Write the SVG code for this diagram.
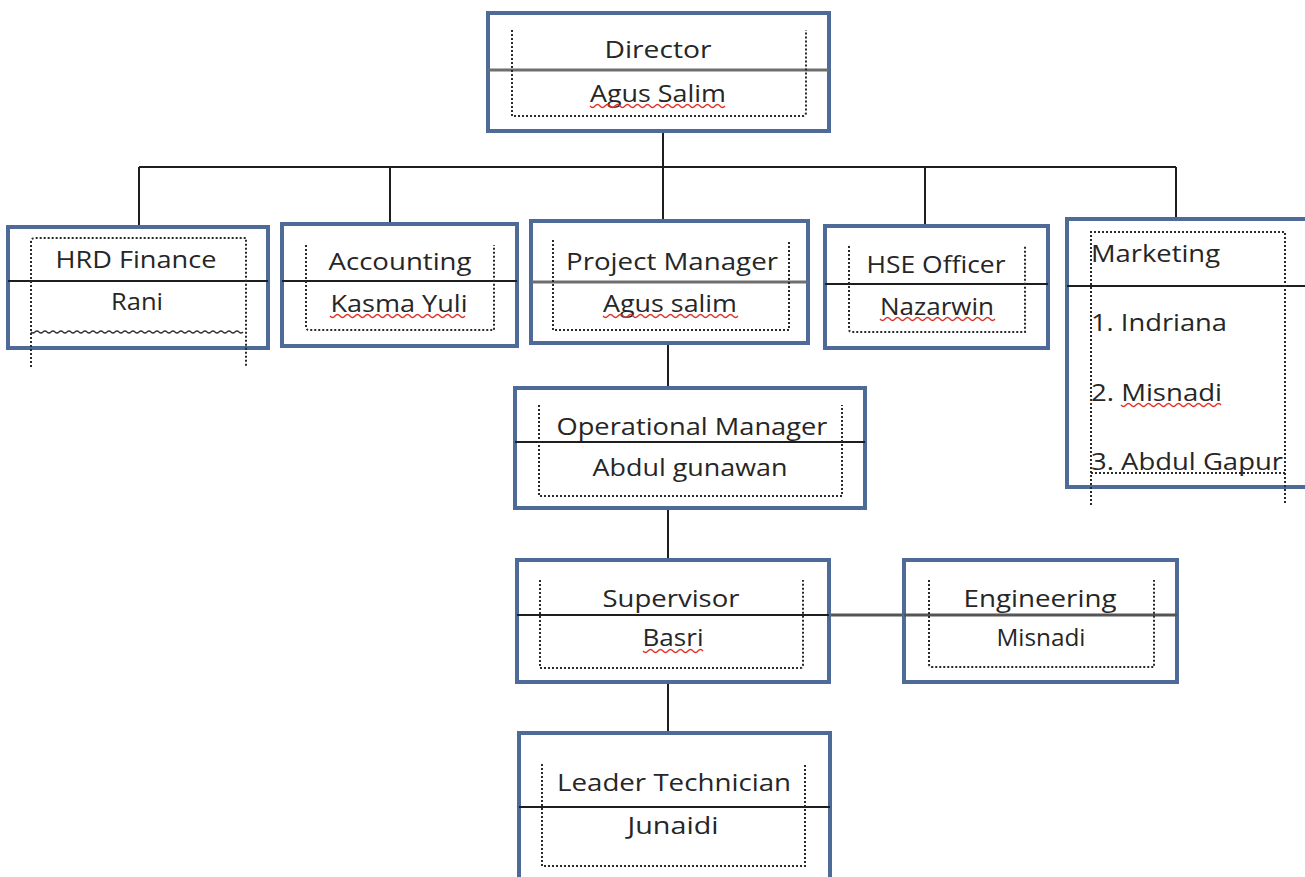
<svg xmlns="http://www.w3.org/2000/svg" width="1305" height="877" viewBox="0 0 1305 877">
<style>
.box{fill:#fff;stroke:#4e6b98;stroke-width:4}
.div{stroke:#1e1e1e;stroke-width:2;fill:none}
.divg{stroke:#6e6e6e;stroke-width:3;fill:none}
.dot{fill:none;stroke:#2a2a2a;stroke-width:2;stroke-dasharray:2 2}
.t{font-family:"Open Sans","Liberation Sans",sans-serif;font-size:23px;fill:#262626;text-anchor:middle}
.tl{text-anchor:start}
.wav{fill:none;stroke:#e0302a;stroke-width:1.3}
.con{stroke:#1e1e1e;stroke-width:2;fill:none}
</style>
<rect width="1305" height="877" fill="#fff"/>
<g id="connectors">
<path class="con" d="M663 131V221M139 167H1176M139 167V227M390 167V224M925 167V226M1176 167V219"/>
<path class="con" d="M668 343V388M668 508V560M668 682V733"/>
<path d="M829 615H1177" stroke="#555" stroke-width="3"/>
</g>
<g id="director">
<rect class="box" x="488" y="13" width="341" height="118"/>
<path class="divg" d="M488 70H829"/>
<path class="dot" d="M512 30V116H803Q806 116 806 112V30"/>
<text class="t" x="658" y="58" textLength="107" lengthAdjust="spacingAndGlyphs">Director</text>
<text class="t" x="658" y="102" textLength="136" lengthAdjust="spacingAndGlyphs">Agus Salim</text>
<path class="wav" d="M590 106q2.5 3 5 0t5 0t5 0t5 0t5 0t5 0t5 0t5 0t5 0t5 0t5 0t5 0t5 0t5 0t5 0t5 0t5 0t5 0t5 0t5 0t5 0t5 0t5 0t5 0t5 0t5 0t5 0"/>
</g>
<g id="hrd">
<rect class="box" x="8" y="227" width="260" height="121"/>
<path class="div" d="M8 281H268"/>
<path class="dot" d="M31 367V242Q31 238 35 238H246V367"/>
<path d="M31 332q2 2 4 0t4 0t4 0t4 0t4 0t4 0t4 0t4 0t4 0t4 0t4 0t4 0t4 0t4 0t4 0t4 0t4 0t4 0t4 0t4 0t4 0t4 0t4 0t4 0t4 0t4 0t4 0t4 0t4 0t4 0t4 0t4 0t4 0t4 0t4 0t4 0t4 0t4 0t4 0t4 0t4 0t4 0t4 0t4 0t4 0t4 0t4 0t4 0t4 0t4 0t4 0t4 0t4 0" fill="none" stroke="#333" stroke-width="1.3"/>
<text class="t" x="136" y="268" textLength="161" lengthAdjust="spacingAndGlyphs">HRD Finance</text>
<text class="t" x="137" y="310" textLength="52" lengthAdjust="spacingAndGlyphs">Rani</text>
</g>
<g id="accounting">
<rect class="box" x="282" y="224" width="235" height="122"/>
<path class="div" d="M282 281H517"/>
<path class="dot" d="M306 245V327Q306 330 309 330H494V245"/>
<text class="t" x="400" y="270" textLength="143" lengthAdjust="spacingAndGlyphs">Accounting</text>
<text class="t" x="399" y="312" textLength="137" lengthAdjust="spacingAndGlyphs">Kasma Yuli</text>
<path class="wav" d="M330 316q2.5 3 5 0t5 0t5 0t5 0t5 0t5 0t5 0t5 0t5 0t5 0t5 0t5 0t5 0t5 0t5 0t5 0t5 0t5 0t5 0t5 0t5 0t5 0t5 0t5 0t5 0t5 0t5 0"/>
</g>
<g id="project-manager">
<rect class="box" x="531" y="221" width="277" height="122"/>
<path class="divg" d="M531 282H808"/>
<path class="dot" d="M553 240V330H789V240"/>
<text class="t" x="672" y="270" textLength="212" lengthAdjust="spacingAndGlyphs">Project Manager</text>
<text class="t" x="670" y="312" textLength="134" lengthAdjust="spacingAndGlyphs">Agus salim</text>
<path class="wav" d="M603 316q2.5 3 5 0t5 0t5 0t5 0t5 0t5 0t5 0t5 0t5 0t5 0t5 0t5 0t5 0t5 0t5 0t5 0t5 0t5 0t5 0t5 0t5 0t5 0t5 0t5 0t5 0t5 0t5 0"/>
</g>
<g id="hse">
<rect class="box" x="825" y="226" width="223" height="122"/>
<path class="div" d="M825 284H1048"/>
<path class="dot" d="M849 246V329Q849 332 852 332H1025V246"/>
<text class="t" x="936" y="273" textLength="139" lengthAdjust="spacingAndGlyphs">HSE Officer</text>
<text class="t" x="937" y="315" textLength="114" lengthAdjust="spacingAndGlyphs">Nazarwin</text>
<path class="wav" d="M880 319q2.5 3 5 0t5 0t5 0t5 0t5 0t5 0t5 0t5 0t5 0t5 0t5 0t5 0t5 0t5 0t5 0t5 0t5 0t5 0t5 0t5 0t5 0t5 0t5 0"/>
</g>
<g id="marketing">
<rect class="box" x="1067" y="219" width="250" height="268"/>
<path class="div" d="M1067 286H1305"/>
<path class="dot" d="M1091 505V232H1285V505M1091 473H1285"/>
<text class="t tl" x="1091" y="262" textLength="129" lengthAdjust="spacingAndGlyphs">Marketing</text>
<text class="t tl" x="1091" y="331" textLength="136" lengthAdjust="spacingAndGlyphs">1. Indriana</text>
<text class="t tl" x="1091" y="401" textLength="131" lengthAdjust="spacingAndGlyphs">2. Misnadi</text>
<path class="wav" d="M1121 405q2.5 3 5 0t5 0t5 0t5 0t5 0t5 0t5 0t5 0t5 0t5 0t5 0t5 0t5 0t5 0t5 0t5 0t5 0t5 0t5 0t5 0"/>
<text class="t tl" x="1091" y="470" textLength="192" lengthAdjust="spacingAndGlyphs">3. Abdul Gapur</text>
</g>
<g id="operational-manager">
<rect class="box" x="515" y="388" width="350" height="120"/>
<path class="div" d="M515 442H865"/>
<path class="dot" d="M539 405V496H842V405"/>
<text class="t" x="692" y="435" textLength="271" lengthAdjust="spacingAndGlyphs">Operational Manager</text>
<text class="t" x="690" y="476" textLength="195" lengthAdjust="spacingAndGlyphs">Abdul gunawan</text>
</g>
<g id="supervisor">
<rect class="box" x="517" y="560" width="312" height="122"/>
<path class="div" d="M517 615H829"/>
<path class="dot" d="M540 580V668H800Q803 668 803 665V580"/>
<text class="t" x="671" y="607" textLength="137" lengthAdjust="spacingAndGlyphs">Supervisor</text>
<text class="t" x="673" y="646" textLength="61" lengthAdjust="spacingAndGlyphs">Basri</text>
<path class="wav" d="M643 651q2.5 3 5 0t5 0t5 0t5 0t5 0t5 0t5 0t5 0t5 0t5 0t5 0t5 0"/>
</g>
<g id="engineering">
<rect class="box" x="904" y="560" width="273" height="122"/>
<path d="M904 615H1177" stroke="#555" stroke-width="3"/>
<path class="dot" d="M929 580V664Q929 667 932 667H1154V580"/>
<text class="t" x="1040" y="607" textLength="153" lengthAdjust="spacingAndGlyphs">Engineering</text>
<text class="t" x="1041" y="646" textLength="89" lengthAdjust="spacingAndGlyphs">Misnadi</text>
</g>
<g id="leader-technician">
<rect class="box" x="519" y="733" width="311" height="150"/>
<path class="div" d="M519 807H830"/>
<path class="dot" d="M542 764V866H805V764"/>
<text class="t" x="674" y="791" textLength="234" lengthAdjust="spacingAndGlyphs">Leader Technician</text>
<text class="t" x="673" y="834" textLength="91" lengthAdjust="spacingAndGlyphs">Junaidi</text>
</g>
</svg>
